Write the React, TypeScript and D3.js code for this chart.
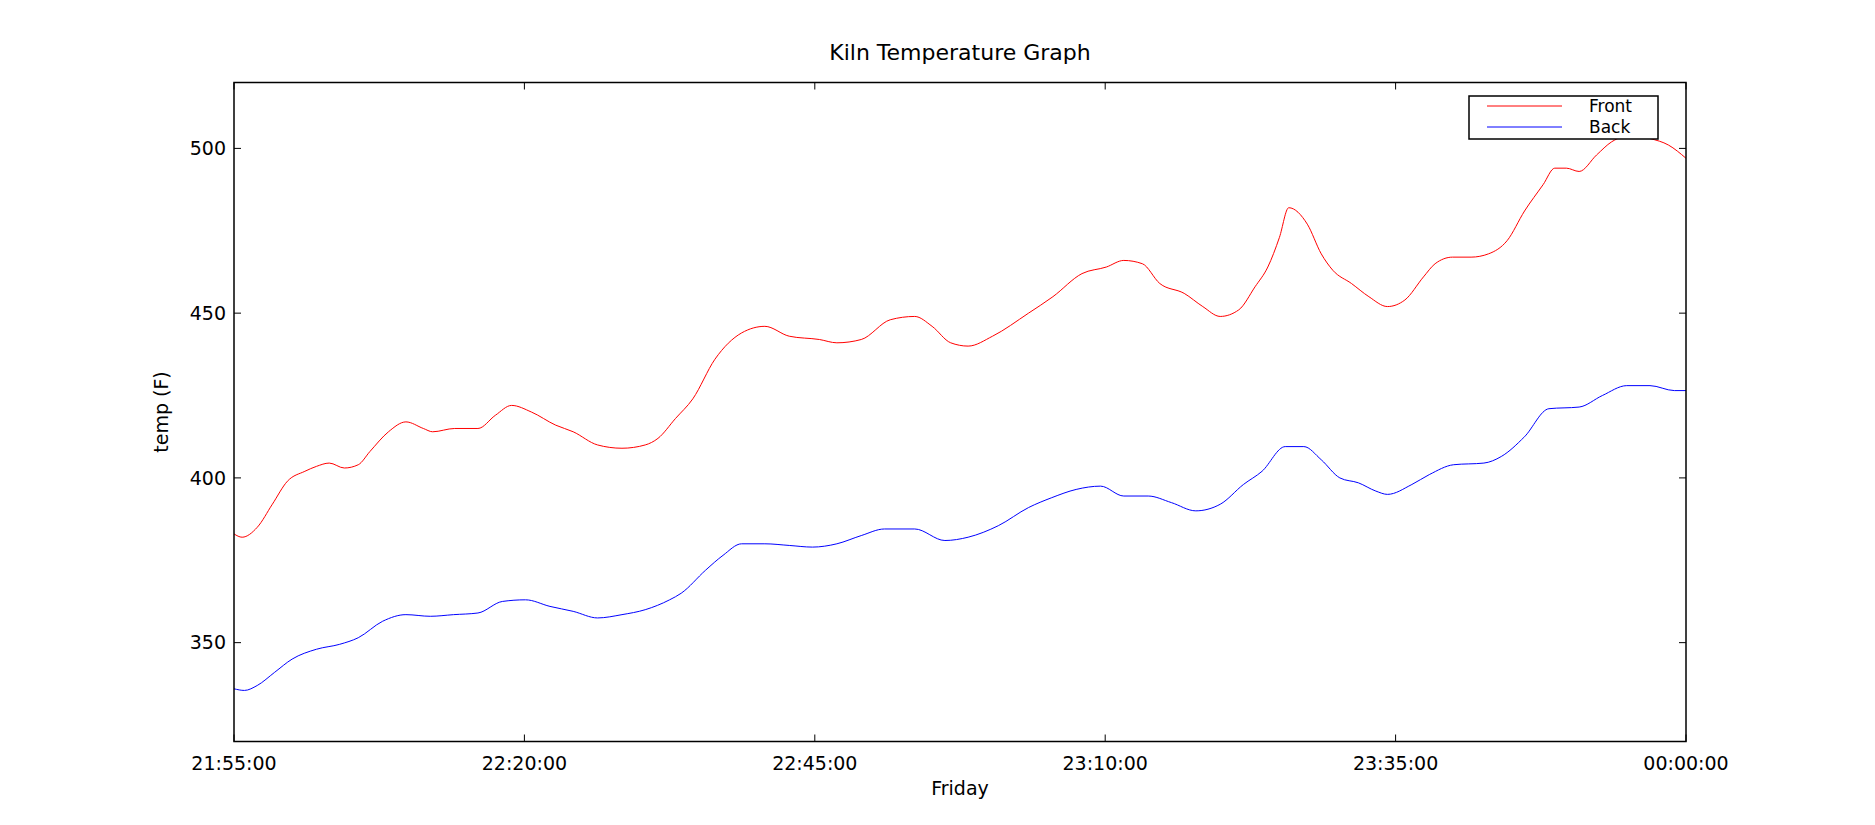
import * as d3 from "d3";

// minutes after 21:55:00
const frontT = [0, 0.7, 2, 3.3, 4.6, 6.1, 7.1, 8.2, 9.5, 10.7, 11.7, 13.3, 14.8, 16.3, 17.1, 19, 21, 22.5, 23.9, 25.6, 27.7, 29.2, 31.3, 33.4, 35.4, 36.5, 38, 39.5, 41.4, 43.7, 45.7, 47.8, 50.4, 51.9, 54, 56.5, 58.6, 60.1, 61.7, 63.2, 65.3, 68.4, 70.5, 73, 75.1, 76.6, 78.2, 79.7, 81.8, 83.4, 84.9, 86.5, 87.9, 89, 90, 90.8, 92.4, 93.6, 94.6, 96.2, 97.7, 99.3, 100.8, 102.4, 103.4, 104.9, 106.5, 108, 109.6, 111.1, 112.7, 113.7, 114.7, 115.8, 117.3, 118.6, 120.4, 121.9, 123.5, 125];
const frontV = [383, 382, 385, 392, 399, 402, 403.5, 404.5, 403, 404, 408, 414, 417, 415, 414, 415, 415, 419, 422, 420, 416, 414, 410, 409, 410, 412, 418, 424, 436, 444, 446, 443, 442, 441, 442, 448, 449, 446, 441, 440, 443, 450, 455, 462, 464, 466, 465, 459, 456, 452, 449, 451, 458, 464, 473, 482, 477, 468, 463, 459, 455, 452, 454, 461, 465, 467, 467, 468, 472, 481, 489, 494, 494, 493, 498, 502, 504, 503, 501, 497];

const backT = [0, 0.9, 2, 3.5, 5, 7.1, 9.1, 10.7, 12.8, 14.8, 16.9, 18.9, 21, 23.1, 25.1, 27.2, 29.2, 31.3, 33.4, 35.4, 37.5, 38.5, 40.6, 42.1, 43.7, 45.7, 47.8, 49.8, 51.9, 54, 56, 58.6, 61.2, 63.2, 65.8, 68.4, 70.4, 72.5, 74.6, 76.6, 78.7, 80.7, 82.8, 84.9, 86.9, 88.5, 90.5, 92.1, 93.6, 95.2, 96.8, 98.3, 99.3, 101.4, 102.9, 105, 107.6, 109.1, 111.1, 113.2, 115.8, 117.8, 119.9, 121.9, 124, 125];
const backV = [336, 335.5, 337, 341, 345, 348, 349.5, 351.5, 356.5, 358.5, 358, 358.5, 359, 362.5, 363, 361, 359.5, 357.5, 358.5, 360, 363, 365, 372, 376.5, 380, 380, 379.5, 379, 380, 382.5, 384.5, 384.5, 381, 382, 385.5, 391, 394, 396.5, 397.5, 394.5, 394.5, 392.5, 390, 392, 398, 402, 409.5, 409.5, 405.5, 400, 398.5, 396, 395, 398, 401, 404, 404.5, 406.5, 412.5, 421, 421.5, 425, 428, 428, 426.5, 426.5];

const yTicks = [350, 400, 450, 500];
const xTickLabels = ["21:55:00", "22:20:00", "22:45:00", "23:10:00", "23:35:00", "00:00:00"];

const W = 1875, H = 825;
const L = 234, R = 1686, T = 82.5, B = 741.5;
const FONT = "DejaVu Sans, sans-serif";

export default function App() {
  const x = d3.scaleLinear().domain([0, 125]).range([L, R]);
  const y = d3.scaleLinear().domain([320, 520]).range([B, T]);
  const line = (ts: number[], vs: number[]) =>
    d3.line<number>().x((_, i) => x(ts[i])).y((v) => y(v)).curve(d3.curveMonotoneX)(vs) || "";
  const xt = d3.range(0, 126, 25);
  return (
    <svg width={W} height={H} style={{ position: "absolute", left: 0, top: 0, background: "#fff" }} fontFamily={FONT}>
      <defs>
        <clipPath id="clip"><rect x={L} y={T} width={R - L} height={B - T} /></clipPath>
      </defs>
      <g clipPath="url(#clip)" fill="none" strokeWidth={1}>
        <path d={line(frontT, frontV)} stroke="#ff0000" />
        <path d={line(backT, backV)} stroke="#0000ff" />
      </g>
      <rect x={L} y={T} width={R - L} height={B - T} fill="none" stroke="#000" strokeWidth={1.5} />
      {yTicks.map((v) => (
        <g key={v}>
          <line x1={L} x2={L + 7} y1={y(v)} y2={y(v)} stroke="#000" />
          <line x1={R} x2={R - 7} y1={y(v)} y2={y(v)} stroke="#000" />
          <text x={L - 8} y={y(v)} dy="0.35em" textAnchor="end" fontSize={19}>{v}</text>
        </g>
      ))}
      {xt.map((t, i) => (
        <g key={t}>
          <line x1={x(t)} x2={x(t)} y1={B} y2={B - 7} stroke="#000" />
          <line x1={x(t)} x2={x(t)} y1={T} y2={T + 7} stroke="#000" />
          <text x={x(t)} y={B + 28} textAnchor="middle" fontSize={19}>{xTickLabels[i]}</text>
        </g>
      ))}
      <text x={(L + R) / 2} y={60} textAnchor="middle" fontSize={22}>Kiln Temperature Graph</text>
      <text x={(L + R) / 2} y={795} textAnchor="middle" fontSize={19}>Friday</text>
      <text transform={`translate(168,${(T + B) / 2}) rotate(-90)`} textAnchor="middle" fontSize={19}>temp (F)</text>
      <rect x={1469} y={96} width={189} height={43} fill="#fff" stroke="#000" strokeWidth={1.5} />
      <line x1={1487} x2={1562} y1={106} y2={106} stroke="#ff0000" />
      <line x1={1487} x2={1562} y1={127} y2={127} stroke="#0000ff" />
      <text x={1589} y={106} dy="0.35em" fontSize={17}>Front</text>
      <text x={1589} y={127} dy="0.35em" fontSize={17}>Back</text>
    </svg>
  );
}
